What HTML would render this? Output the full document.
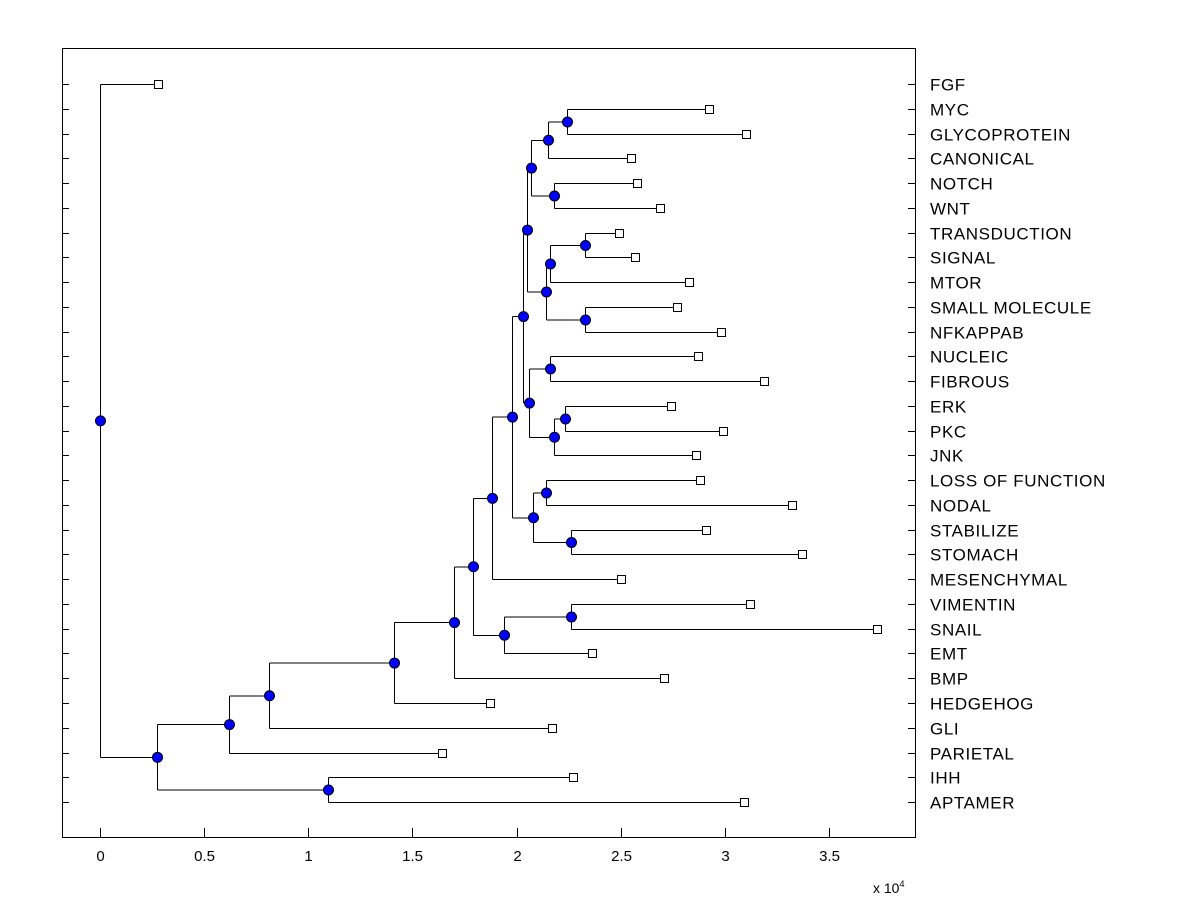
<!DOCTYPE html>
<html><head><meta charset="utf-8"><style>body{margin:0;background:#fff}svg{display:block}text{font-family:"Liberation Sans",Arial,sans-serif}line,rect{shape-rendering:crispEdges}</style></head>
<body>
<svg id="c" width="1200" height="900" xmlns="http://www.w3.org/2000/svg"></svg>
<script>
const leafNames=["FGF","MYC","GLYCOPROTEIN","CANONICAL","NOTCH","WNT","TRANSDUCTION","SIGNAL","MTOR","SMALL MOLECULE","NFKAPPAB","NUCLEIC","FIBROUS","ERK","PKC","JNK","LOSS OF FUNCTION","NODAL","STABILIZE","STOMACH","MESENCHYMAL","VIMENTIN","SNAIL","EMT","BMP","HEDGEHOG","GLI","PARIETAL","IHH","APTAMER"];
const leafValues=[0.278,2.924,3.10,2.55,2.58,2.69,2.49,2.57,2.83,2.77,2.98,2.87,3.19,2.74,2.99,2.86,2.88,3.32,2.91,3.37,2.50,3.12,3.73,2.36,2.71,1.87,2.17,1.64,2.27,3.09];
const nodeNames=["root","A","B","C","D","E","F","G","H","I","J","K","L","M","N","O","P","Q","R","S","T","U","V","W","X","Y","Z","AA","AB"];
const nodeHeights=[0,0.274,0.62,1.095,0.81,1.41,1.70,1.79,1.88,1.94,2.26,1.98,2.03,2.08,2.14,2.26,2.05,2.06,2.16,2.18,2.23,2.07,2.14,2.16,2.33,2.33,2.15,2.18,2.24];
const nodeChildren=[["FGF","A"],["B","C"],["D","PARIETAL"],["IHH","APTAMER"],["E","GLI"],["F","HEDGEHOG"],["G","BMP"],["H","I"],["K","MESENCHYMAL"],["J","EMT"],["VIMENTIN","SNAIL"],["L","M"],["P","Q"],["N","O"],["LOSS OF FUNCTION","NODAL"],["STABILIZE","STOMACH"],["U","V"],["R","S"],["NUCLEIC","FIBROUS"],["T","JNK"],["ERK","PKC"],["Z","AA"],["W","X"],["Y","MTOR"],["SMALL MOLECULE","NFKAPPAB"],["TRANSDUCTION","SIGNAL"],["AB","CANONICAL"],["NOTCH","WNT"],["MYC","GLYCOPROTEIN"]];
const xTicks=[0,0.5,1,1.5,2,2.5,3,3.5];
const xTickLabels=["0","0.5","1","1.5","2","2.5","3","3.5"];

const svg=document.getElementById('c');const NS="http://www.w3.org/2000/svg";
const L=62,R=915,T=48,B=837;
const xs=v=>Math.round(100+v*208.3)+0.5;
const ys=i=>Math.round(84+i*24.76)+0.5;
function mk(t,a,p){const e=document.createElementNS(NS,t);for(const k in a)e.setAttribute(k,a[k]);(p||svg).appendChild(e);return e;}
const frame=mk('rect',{x:L+0.5,y:T+0.5,width:R-L,height:B-T,fill:'none',stroke:'#000','stroke-width':1});


leafNames.forEach((n,i)=>{
  const y=ys(i);
  mk('line',{x1:L,x2:L+7,y1:y,y2:y,stroke:'#000'});
  mk('line',{x1:R-7,x2:R,y1:y,y2:y,stroke:'#000'});
  const t=mk('text',{x:930,y:y+6,'font-size':17,'letter-spacing':0.6,fill:'#000'});t.textContent=n;
  
  
});
xTicks.forEach((v,i)=>{
  const x=xs(v);
  mk('line',{x1:x,x2:x,y1:B,y2:B-9,stroke:'#000'});
  const t=mk('text',{x:x,y:861,'font-size':15,'text-anchor':'middle'});t.textContent=xTickLabels[i];
  
  
});
const ex=mk('text',{x:873,y:893,'font-size':14});ex.innerHTML='x 10<tspan dy="-6" font-size="9">4</tspan>';


const pos={};
leafNames.forEach((n,i)=>pos[n]={x:leafValues[i],y:ys(i),leaf:true});
function resolve(n){
  if(pos[n])return pos[n];
  const k=nodeNames.indexOf(n);
  const cs=nodeChildren[k].map(resolve);
  pos[n]={x:nodeHeights[k],y:(cs[0].y+cs[1].y)/2,leaf:false,ch:nodeChildren[k]};
  return pos[n];
}
resolve("root");
const lines=mk('g',{});const marks=mk('g',{});
nodeNames.forEach(n=>{
  const p=pos[n];const c0=pos[p.ch[0]],c1=pos[p.ch[1]];
  mk('line',{x1:xs(p.x),x2:xs(p.x),y1:c0.y,y2:c1.y,stroke:'#000'},lines);
  [c0,c1].forEach(c=>mk('line',{x1:xs(p.x),x2:xs(c.x),y1:c.y,y2:c.y,stroke:'#000'},lines));
});
nodeNames.forEach(n=>{
  const p=pos[n];
  const c=mk('circle',{cx:xs(p.x),cy:p.y,r:5,fill:'#0000ff',stroke:'#000','stroke-width':1},marks);
  
  
});
leafNames.forEach(n=>{
  const p=pos[n];
  const r=mk('rect',{x:xs(p.x)-4,y:p.y-4,width:8,height:8,fill:'#fff',stroke:'#000'},marks);
  
  
});
</script>
</body></html>
